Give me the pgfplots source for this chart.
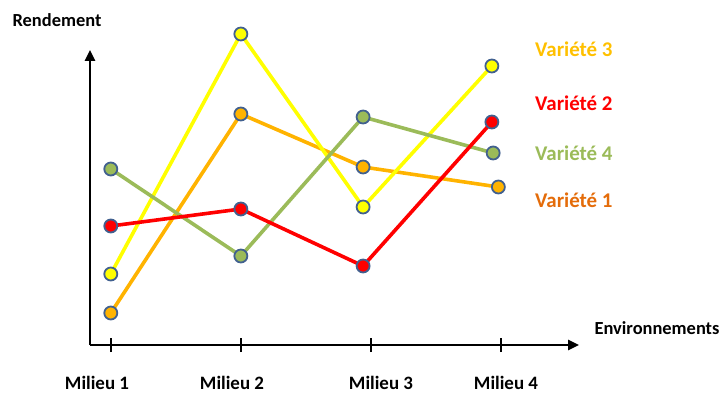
\documentclass[border=0pt]{standalone}
\usepackage{pgfplots}
\pgfplotsset{compat=1.18}
\usepackage{fontspec}
\setmainfont{Carlito}
\usetikzlibrary{arrows.meta}
\definecolor{cyel}{HTML}{FFFF00}
\definecolor{cgold}{HTML}{FFC000}
\definecolor{cora}{HTML}{FFB300}
\definecolor{cgreen}{HTML}{9BBB59}
\definecolor{cred}{HTML}{FF0000}
\definecolor{corange}{HTML}{E46C0A}
\definecolor{cedge}{HTML}{41608F}
\begin{document}
\begin{tikzpicture}
\path[use as bounding box] (0,0) rectangle (725bp,398bp);
\begin{axis}[
  at={(90bp,53bp)}, anchor=south west,
  scale only axis, width=489bp, height=295bp,
  xmin=0.84, xmax=4.6, ymin=0, ymax=295,
  clip=false,
  axis lines=left,
  axis line style={line width=2.6bp, -{Triangle[length=11bp,width=10bp]}},
  xtick={1,2,3,4},
  xticklabels={},
  ytick=\empty,
  major tick length=14bp,
  tick align=center,
  xtick style={line width=2.4bp, black},
  every axis plot/.append style={line width=3.6bp, mark=*, mark size=6.5bp},
  mk/.style={mark options={fill=#1, draw=cedge, line width=1.8bp}},
]
\addplot[cora, mk=cora] coordinates {(1,32) (2,231) (2.94,178) (3.98,158)};
\addplot[cyel, mk=cyel] coordinates {(1,71) (2,311) (2.94,138) (3.93,279)};
\addplot[cgreen, mk=cgreen] coordinates {(1,176) (2,89) (2.94,228) (3.94,192)};
\addplot[cred, mk=cred] coordinates {(1,119) (2,136) (2.94,79) (3.93,223)};
\end{axis}
\begin{scope}[every node/.style={font=\fontsize{18.5}{22}\selectfont\bfseries, inner sep=0pt}]
\node at (57bp,378bp) {Rendement};
\node at (657bp,70bp) {Environnements};
\node at (97bp,15bp) {\fontsize{19}{22}\selectfont Milieu 1};
\node at (232bp,15bp) {\fontsize{19}{22}\selectfont Milieu 2};
\node at (381bp,15bp) {\fontsize{19}{22}\selectfont Milieu 3};
\node at (506bp,15bp) {\fontsize{19}{22}\selectfont Milieu 4};
\begin{scope}[every node/.append style={font=\fontsize{21}{24}\selectfont\bfseries}]
\node[anchor=west, text=cgold] at (535bp,349bp) {Variété 3};
\node[anchor=west, text=cred] at (535bp,295bp) {Variété 2};
\node[anchor=west, text=cgreen] at (535bp,245bp) {Variété 4};
\node[anchor=west, text=corange] at (535bp,198bp) {Variété 1};
\end{scope}
\end{scope}
\end{tikzpicture}
\end{document}
